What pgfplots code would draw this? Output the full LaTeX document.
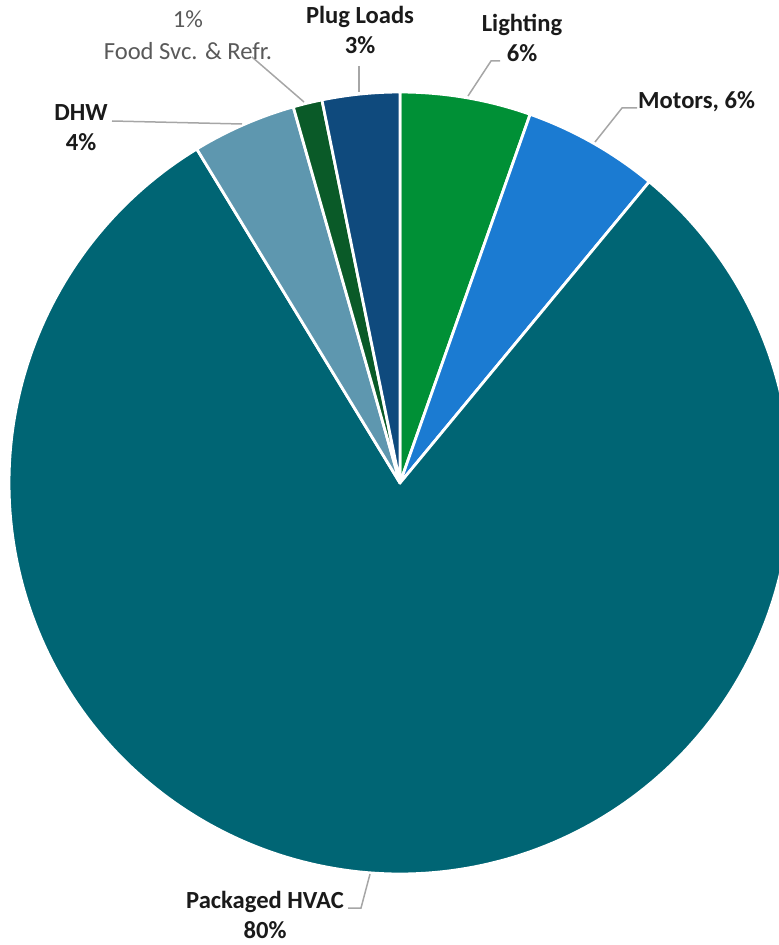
\documentclass[border=0pt]{standalone}
\usepackage{fontspec}
\setmainfont{Carlito}
\usepackage{pgfplots}
\pgfplotsset{compat=1.18}
\definecolor{cLight}{HTML}{009036}
\definecolor{cMotor}{HTML}{1B7BD2}
\definecolor{cHVAC}{HTML}{006574}
\definecolor{cDHW}{HTML}{5E97AF}
\definecolor{cFood}{HTML}{0A5A28}
\definecolor{cPlug}{HTML}{0F4A7D}
\definecolor{lead}{HTML}{A6A6A6}
\definecolor{txt}{HTML}{1A1A1A}
\definecolor{gtxt}{HTML}{595959}
\begin{document}
\begin{tikzpicture}
\begin{axis}[
  scale only axis, width=779bp, height=945bp,
  xmin=0, xmax=779, ymin=0, ymax=945, y dir=reverse,
  hide axis, clip=true,
  every axis plot/.append style={draw=white, line width=2.8bp, line join=round, variable=\t},
]
% shares in percent, clockwise from 12 o'clock:
% Lighting 5.4, Motors 5.6, Packaged HVAC 80.3, DHW 4.3, Food Svc 1.2, Plug Loads 3.2
\addplot[fill=cLight, domain=0:5.4, samples=30] ({400+391*sin(3.6*\t)},{483-391*cos(3.6*\t)}) -- (axis cs:400,483) -- cycle;
\addplot[fill=cMotor, domain=5.4:11.0, samples=30] ({400+391*sin(3.6*\t)},{483-391*cos(3.6*\t)}) -- (axis cs:400,483) -- cycle;
\addplot[fill=cHVAC, domain=11.0:91.3, samples=240] ({400+391*sin(3.6*\t)},{483-391*cos(3.6*\t)}) -- (axis cs:400,483) -- cycle;
\addplot[fill=cDHW, domain=91.3:95.6, samples=30] ({400+391*sin(3.6*\t)},{483-391*cos(3.6*\t)}) -- (axis cs:400,483) -- cycle;
\addplot[fill=cFood, domain=95.6:96.8, samples=10] ({400+391*sin(3.6*\t)},{483-391*cos(3.6*\t)}) -- (axis cs:400,483) -- cycle;
\addplot[fill=cPlug, domain=96.8:100, samples=30] ({400+391*sin(3.6*\t)},{483-391*cos(3.6*\t)}) -- (axis cs:400,483) -- cycle;
% leader lines
\draw[lead, line width=1.5bp] (axis cs:252,57) -- (axis cs:304,102);
\draw[lead, line width=1.5bp] (axis cs:359,66) -- (axis cs:359,92);
\draw[lead, line width=1.5bp] (axis cs:468,96) -- (axis cs:491,61) -- (axis cs:500,61);
\draw[lead, line width=1.5bp] (axis cs:595,142) -- (axis cs:622,108) -- (axis cs:637,108);
\draw[lead, line width=1.5bp] (axis cs:112,121) -- (axis cs:242,124);
\draw[lead, line width=1.5bp] (axis cs:370,874) -- (axis cs:361,908) -- (axis cs:348,908);
% labels
\tikzset{lab/.style={align=center, text=txt, font=\fontsize{24.6bp}{30bp}\selectfont\bfseries, inner sep=0pt}}
\node[lab, text=gtxt, font=\fontsize{24.6bp}{32bp}\selectfont] at (axis cs:188,35) {1\%\\Food Svc. \& Refr.};
\node[lab] at (axis cs:360,30) {Plug Loads\\3\%};
\node[lab] at (axis cs:522,38) {Lighting\\6\%};
\node[lab, anchor=west] at (axis cs:638,102) {Motors, 6\%};
\node[lab] at (axis cs:81,128) {DHW\\4\%};
\node[lab] at (axis cs:265,915) {Packaged HVAC\\80\%};
\end{axis}
\pgfresetboundingbox
\useasboundingbox (current axis.south west) rectangle (current axis.north east);
\end{tikzpicture}
\end{document}
